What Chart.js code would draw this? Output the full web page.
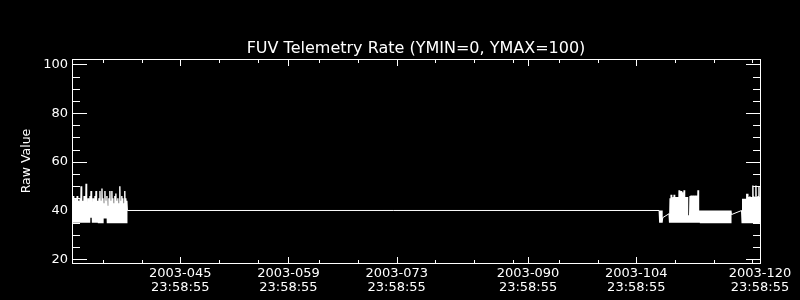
<!DOCTYPE html>
<html><head><meta charset="utf-8">
<script src="https://cdn.jsdelivr.net/npm/chart.js@4.4.0/dist/chart.umd.min.js"></script>
<style>html,body{margin:0;padding:0;background:#000;overflow:hidden;}</style>
</head><body>
<canvas id="c" width="800" height="300"></canvas>
<script>
// ---- data (x in day-of-year 2003, each label day N = N 23:58:55) ----
const titleText = 'FUV Telemetry Rate (YMIN=0, YMAX=100)';
const yAxisTitle = 'Raw Value';
const yMajorTicks = [20, 40, 60, 80, 100];
const yMinorTicks = [25, 30, 35, 45, 50, 55, 65, 70, 75, 85, 90, 95];
const xMajorDays = [45, 59, 73, 90, 104, 120];
const xMajorLabels = [
  ['2003-045', '23:58:55'], ['2003-059', '23:58:55'], ['2003-073', '23:58:55'],
  ['2003-090', '23:58:55'], ['2003-104', '23:58:55'], ['2003-120', '23:58:55']
];
const xMinorDays = [35, 40, 50, 55, 63, 68, 78, 83, 88, 94, 99, 109, 114, 119];
const xRange = [31, 120];
const yRange = [18.42, 102.26];

// segment A: day 31.09 .. 38.15
const segATimes = [31.09, 38.15];
const segAValues = [
  35,46, 35,44, 35,45, 35,43, 35,46, 35,44, 35,42, 35,45, 35,50, 35,44,
  35,43, 35,46, 35,44, 35,51, 35,42, 35,45, 35,44, 35,46, 37,48, 37,43,
  35,45, 35,44, 35,46, 35,48, 35,44, 35,42, 35,45, 35,48, 35,44, 35,49,
  35,45, 37,43, 37,48, 37,44, 37,46, 35,42, 35,45, 35,48, 35,44, 35,48,
  35,45, 35,43, 35,46, 35,47, 35,44, 35,45, 35,43, 35,50, 35,44, 35,46,
  35,45, 35,43, 35,48, 35,45, 35,44,
  40
];
// segment B: day 106.97 .. 107.39
const segBTimes = [106.97, 107.39];
const segBValues = [40, 35, 40, 35, 40, 35, 37];
// segment C: day 108.25 .. 116.29
const segCTimes = [108.25, 116.29];
const segCValues = [
  38.7,
  35,45, 35,46.5, 35,45, 35,45.5, 35,46.5, 35,45.5, 35,45.5, 35,45.5, 35,45.5, 35,48.3,
  35,47.8, 35,48, 35,47.5, 35,45.5, 35,48.3, 35,45.5, 35,45.5, 35,45.5,
  35,38, 35,38,
  35,46, 35,46.2, 35,46, 35,46.2, 35,46, 35,46.2, 35,46, 35,46.2, 35,48.3,
  35,40, 35,40, 35,40, 35,40, 35,40, 35,40, 35,40, 35,40, 35,40, 35,40, 35,40,
  35,40, 35,40, 35,40, 35,40, 35,40, 35,40, 35,40, 35,40, 35,40, 35,40, 35,40,
  35,40, 35,40, 35,40, 35,40, 35,40, 35,40, 35,40, 35,40, 35,40, 35,40, 35,40,
  38.3
];
// segment F: day 117.63 .. 120.0
const segFTimes = [117.63, 120.0];
const segFValues = [
  40,
  35,44.8, 35,44.8, 35,44.8, 35,44.8, 35,46.9, 35,46.9, 35,45.5, 35,45.8, 35,45.5,
  35,45.5, 35,50.3, 35,45.8, 35,45.5, 35,50.3, 35,45.5, 35,46, 35,50, 35,45.5
];

function toPoints(times, vals) {
  const n = vals.length;
  return vals.map((v, i) => ({ x: times[0] + (times[1] - times[0]) * i / (n - 1), y: v }));
}
const points = [].concat(
  toPoints(segATimes, segAValues), toPoints(segBTimes, segBValues),
  toPoints(segCTimes, segCValues), toPoints(segFTimes, segFValues)
);

const FONT = 'DejaVu Sans';

const frameTicks = {
  id: 'frameTicks',
  afterDatasetsDraw(chart) {
    const { ctx, chartArea: a, scales: { x, y } } = chart;
    ctx.save();
    ctx.strokeStyle = '#fff';
    ctx.lineWidth = 1;
    ctx.strokeRect(a.left + 0.5, a.top + 0.5, a.right - a.left, a.bottom - a.top);
    ctx.beginPath();
    y.ticks.forEach(t => {
      const py = Math.round(y.getPixelForValue(t.value)) + 0.5;
      const len = yMajorTicks.includes(t.value) ? 14 : 7;
      ctx.moveTo(a.left, py); ctx.lineTo(a.left + len + 1, py);
      ctx.moveTo(a.right + 1, py); ctx.lineTo(a.right - len, py);
    });
    x.ticks.forEach(t => {
      const px = Math.round(x.getPixelForValue(t.value)) + 0.5;
      const len = xMajorDays.includes(t.value) ? 6 : 3;
      ctx.moveTo(px, a.bottom); ctx.lineTo(px, a.bottom - len);
      ctx.moveTo(px, a.top + 1); ctx.lineTo(px, a.top + 1 + len);
    });
    ctx.stroke();
    ctx.restore();
  }
};

new Chart(document.getElementById('c'), {
  type: 'line',
  data: {
    datasets: [{
      data: points,
      borderColor: '#fff',
      borderWidth: 1,
      pointRadius: 0,
      tension: 0,
      fill: false,
      segment: {
        borderWidth: c => (Math.abs(c.p1.x - c.p0.x) < 3 ? 1.4 : 1)
      }
    }]
  },
  options: {
    responsive: false,
    animation: false,
    events: [],
    layout: { padding: { left: 0, right: 40, top: 0, bottom: 0 } },
    plugins: {
      legend: { display: false },
      tooltip: { enabled: false },
      title: {
        display: true, text: titleText, color: '#fff', fullSize: false,
        font: { family: FONT, size: 16, weight: 'normal', lineHeight: 1.2 },
        padding: { top: 39, bottom: 0.8 }
      }
    },
    scales: {
      x: {
        type: 'linear', min: xRange[0], max: xRange[1],
        afterBuildTicks: s => { s.ticks = xMajorDays.concat(xMinorDays).sort((a, b) => a - b).map(v => ({ value: v })); },
        afterFit: s => { s.height = 37; },
        grid: { display: false, drawTicks: false },
        border: { display: false },
        ticks: {
          autoSkip: false, maxRotation: 0, minRotation: 0, color: '#fff', padding: 3.4,
          font: { family: FONT, size: 13, lineHeight: 1.1 },
          callback: v => { const i = xMajorDays.indexOf(v); return i >= 0 ? xMajorLabels[i] : ''; }
        }
      },
      y: {
        min: yRange[0], max: yRange[1],
        afterBuildTicks: s => { s.ticks = yMajorTicks.concat(yMinorTicks).sort((a, b) => a - b).map(v => ({ value: v })); },
        afterFit: s => { s.width = 72; },
        grid: { display: false, drawTicks: false },
        border: { display: false },
        title: {
          display: true, text: yAxisTitle, color: '#fff',
          font: { family: FONT, size: 12.5, lineHeight: 1.2 },
          padding: { top: 19.5, bottom: 0 }
        },
        ticks: {
          autoSkip: false, color: '#fff', padding: 4,
          font: { family: FONT, size: 13 },
          callback: v => yMajorTicks.includes(v) ? String(v) : ''
        }
      }
    }
  },
  plugins: [frameTicks]
});
</script>
</body></html>
